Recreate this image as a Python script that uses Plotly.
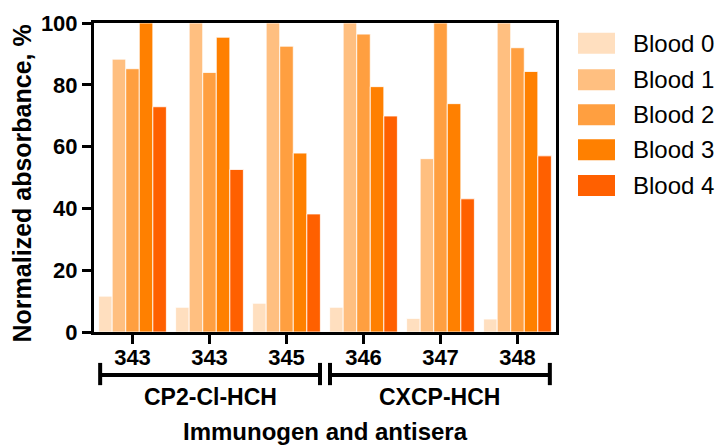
import plotly.graph_objects as go

groups = ["343", "343", "345", "346", "347", "348"]
series_names = ["Blood 0", "Blood 1", "Blood 2", "Blood 3", "Blood 4"]
blood0 = [11.6, 8.0, 9.3, 8.0, 4.4, 4.2]
blood1 = [88.3, 100, 100, 100, 56.1, 100]
blood2 = [85.2, 84.0, 92.5, 96.4, 100, 92.0]
blood3 = [100, 95.4, 57.9, 79.4, 73.9, 84.3]
blood4 = [72.9, 52.6, 38.2, 69.9, 43.1, 57.0]
series_values = [blood0, blood1, blood2, blood3, blood4]
colors = ["#FFDFBF", "#FFBF80", "#FF9F40", "#FF8000", "#FF6000"]
group_names = ["CP2-Cl-HCH", "CXCP-HCH"]
yticks = [0, 20, 40, 60, 80, 100]

FONT = "Arial, Liberation Sans, sans-serif"
xpos = list(range(len(groups)))

fig = go.Figure()
for name, vals, c in zip(series_names, series_values, colors):
    fig.add_trace(go.Bar(x=xpos, y=vals, name=name, showlegend=False,
                         marker=dict(color=c, line=dict(color="white", width=0.8))))

fig.update_layout(
    width=719, height=445,
    margin=dict(l=94, r=163, t=23, b=113, autoexpand=False),
    plot_bgcolor="white", paper_bgcolor="white",
    barmode="group", bargap=0.12, bargroupgap=0,
    font=dict(family=FONT, color="black"),
    showlegend=False,
)
fig.update_xaxes(range=[-0.5, 5.5], tickmode="array", tickvals=xpos, ticktext=groups,
                 showline=True, linewidth=3, linecolor="black", mirror=True,
                 ticks="outside", ticklen=9, tickwidth=3, tickcolor="black",
                 ticklabelstandoff=-5,
                 tickfont=dict(size=22, family=FONT, weight="bold"), showgrid=False,
                 automargin=False)
fig.update_yaxes(range=[0, 100], tickmode="array", tickvals=yticks,
                 showline=True, linewidth=3, linecolor="black", mirror=True,
                 ticks="outside", ticklen=9, tickwidth=3, tickcolor="black",
                 tickfont=dict(size=22, family=FONT, weight="bold"), showgrid=False,
                 zeroline=False, automargin=False)

# y axis title
fig.add_annotation(x=-0.155, y=0.482, xref="paper", yref="paper",
                   text="Normalized absorbance, %", textangle=-90, showarrow=False,
                   xanchor="center", yanchor="middle",
                   font=dict(size=25, family=FONT, weight="bold"))

# custom legend (swatches + labels)
W, H = 462.0, 309.0
def px2paper(px, py):
    return (px - 94) / W, (332 - py) / H

row_y = [43.3, 79.7, 114.8, 149.7, 185.5]
for name, c, ry in zip(series_names, colors, row_y):
    x0, y0 = px2paper(578, ry - 10.5)
    x1, y1 = px2paper(615, ry + 10.5)
    fig.add_shape(type="rect", xref="paper", yref="paper", x0=x0, x1=x1, y0=y1, y1=y0,
                  fillcolor=c, line=dict(width=0))
    tx, ty = px2paper(631, ry)
    fig.add_annotation(x=tx, y=ty, xref="paper", yref="paper", text=name,
                       showarrow=False, xanchor="left", yanchor="middle",
                       font=dict(size=24, family=FONT))

# group brackets
brackets = [(-0.42, 2.435), (2.565, 5.42)]
yb, yc0, yc1 = -0.139, -0.10, -0.172
for (a, b), gname in zip(brackets, group_names):
    fig.add_shape(type="line", xref="x", yref="paper", x0=a, x1=b, y0=yb, y1=yb,
                  line=dict(color="black", width=4))
    for xx in (a, b):
        fig.add_shape(type="line", xref="x", yref="paper", x0=xx, x1=xx, y0=yc0, y1=yc1,
                      line=dict(color="black", width=4))
    fig.add_annotation(x=(a + b) / 2, y=-0.21, xref="x", yref="paper", text=gname,
                       showarrow=False, yanchor="middle",
                       font=dict(size=23, family=FONT, weight="bold"))

fig.add_annotation(x=2.5, y=-0.322, xref="x", yref="paper", text="Immunogen and antisera",
                   showarrow=False, yanchor="middle",
                   font=dict(size=24, family=FONT, weight="bold"))

fig.write_html("out.html", config={"displayModeBar": False},
               post_script="document.body.style.margin='0';document.body.style.overflow='hidden';")
